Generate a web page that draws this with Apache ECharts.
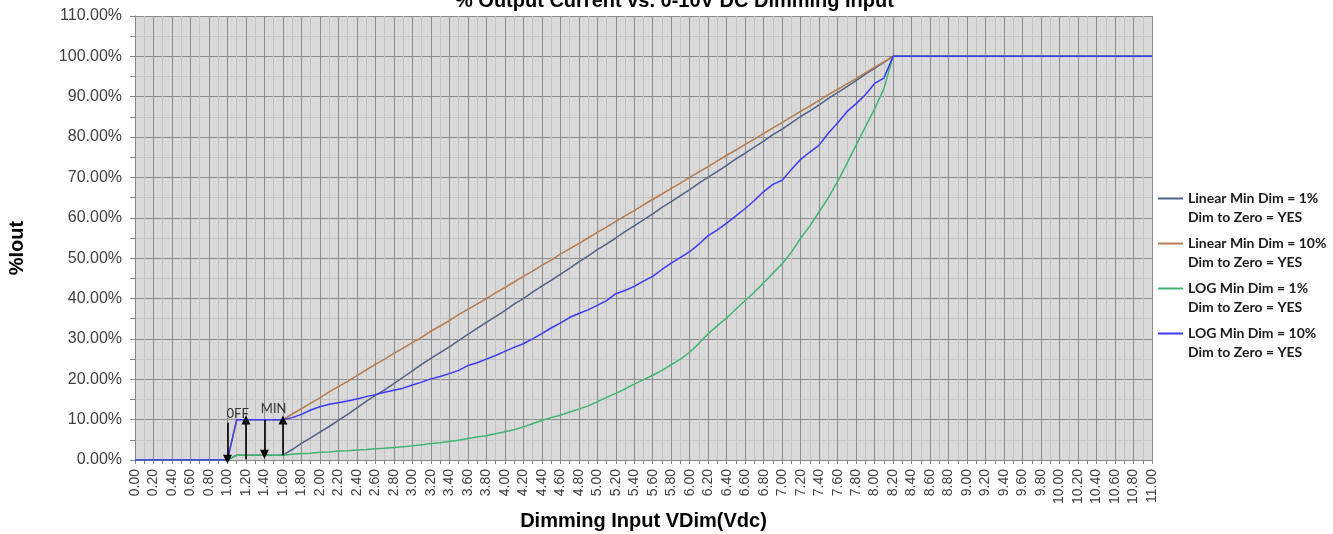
<!DOCTYPE html>
<html><head><meta charset="utf-8">
<script src="https://cdn.jsdelivr.net/npm/echarts@6/dist/echarts.min.js"></script>
<style>html,body{margin:0;padding:0;background:#fff}#c{width:1333px;height:534px}</style>
</head><body><div id="c"></div>
<script>
// Dimming input voltage (Vdc)
const volts = [0, 1.0, 1.1,
  1.6,1.7,1.8,1.9,2.0,2.1,2.2,2.3,2.4,2.5,
  2.6,2.7,2.8,2.9,3.0,3.1,3.2,3.3,3.4,3.5,
  3.6,3.7,3.8,3.9,4.0,4.1,4.2,4.3,4.4,4.5,
  4.6,4.7,4.8,4.9,5.0,5.1,5.2,5.3,5.4,5.5,
  5.6,5.7,5.8,5.9,6.0,6.1,6.2,6.3,6.4,6.5,
  6.6,6.7,6.8,6.9,7.0,7.1,7.2,7.3,7.4,7.5,
  7.6,7.7,7.8,7.9,8.0,8.1,8.2, 11.0];

// % output (percent)
const linear1 = [0, 0, 1.2,
  1.2,2.6,4.1,5.5,6.9,8.3,9.8,11.3,12.9,14.5,
  16.0,17.4,18.9,20.5,22.1,23.7,25.2,26.6,28.0,29.6,
  31.1,32.6,34.1,35.5,37.0,38.6,40.0,41.6,43.1,44.5,
  46.0,47.5,49.1,50.5,52.1,53.5,55.0,56.6,58.0,59.5,
  61.0,62.6,64.0,65.5,67.0,68.6,70.1,71.5,73.0,74.6,
  76.0,77.5,79.0,80.6,82.0,83.5,85.1,86.5,88.0,89.6,
  91.0,92.5,94.0,95.6,97.0,98.5,100, 100];

const linear10 = [0, 0, 10,
  10.0,11.4,12.7,14.1,15.4,16.9,18.2,19.5,20.9,22.3,
  23.7,25.0,26.4,27.7,29.1,30.4,31.9,33.2,34.5,36.0,
  37.3,38.6,40.0,41.4,42.7,44.1,45.5,46.8,48.2,49.5,
  51.0,52.3,53.6,55.0,56.4,57.7,59.1,60.5,61.8,63.2,
  64.6,65.9,67.3,68.6,70.0,71.4,72.7,74.1,75.5,76.8,
  78.2,79.5,80.9,82.3,83.6,85.0,86.4,87.7,89.1,90.5,
  91.8,93.2,94.5,95.9,97.3,98.6,100, 100];

const log1 = [0, 0, 1.2,
  1.2,1.4,1.6,1.7,1.9,2.0,2.2,2.3,2.5,2.6,
  2.8,2.9,3.1,3.3,3.5,3.8,4.1,4.3,4.6,4.9,
  5.3,5.7,6.0,6.5,7.0,7.5,8.2,9.0,9.8,10.5,
  11.1,11.9,12.6,13.4,14.4,15.5,16.5,17.6,18.8,19.9,
  21.0,22.2,23.6,25.0,26.7,28.9,31.3,33.3,35.2,37.4,
  39.5,41.6,43.9,46.3,48.6,51.5,55.0,58.0,61.5,65.0,
  69.0,73.5,78.0,82.5,87.0,92.0,100, 100];

const log10 = [0, 0, 10,
  10.0,10.5,11.3,12.4,13.2,13.8,14.2,14.6,15.1,15.7,
  16.2,16.8,17.3,17.8,18.6,19.3,20.1,20.7,21.4,22.2,
  23.4,24.1,25.0,25.9,26.9,27.9,28.8,30.0,31.3,32.7,
  33.9,35.3,36.3,37.2,38.3,39.5,41.2,42.0,43.0,44.3,
  45.5,47.2,48.8,50.2,51.6,53.5,55.6,57.0,58.7,60.5,
  62.3,64.3,66.5,68.3,69.3,72.0,74.5,76.3,78.0,81.0,
  83.5,86.3,88.3,90.5,93.3,94.6,100, 100];

const seriesNames = ['Linear Min Dim = 1%', 'Linear Min Dim = 10%', 'LOG Min Dim = 1%', 'LOG Min Dim = 10%'];
const legendSecondLine = 'Dim to Zero = YES';
const seriesColors = ['#4f6188', '#b57a4d', '#40b572', '#3a3af2'];

// annotation arrows: [volts, from %, to %]
const arrows = [[1.0, 9.2, 0.2], [1.2, 0.2, 9.9], [1.4, 9.9, 1.4], [1.6, 1.2, 9.9]];
// annotation texts: [label, volts, %]
const notes = [['0FF', 1.11, 11.4], ['MIN', 1.50, 12.7]];

const chart = echarts.init(document.getElementById('c'));
const pts = arr => volts.map((v, i) => [v, arr[i]]);
const dataSets = [linear1, linear10, log1, log10];

const series = dataSets.map((arr, i) => ({
  name: seriesNames[i], type: 'line', symbol: 'none', showSymbol: false,
  lineStyle: {width: 1.5, color: seriesColors[i]}, itemStyle: {color: seriesColors[i]},
  data: pts(arr)
}));
series[3].markLine = {
  silent: true, symbol: ['none', 'triangle'], symbolSize: 9,
  label: {show: false},
  lineStyle: {color: '#000', width: 1.6, type: 'solid'},
  itemStyle: {color: '#000'},
  data: arrows.map(a => [{coord: [a[0], a[1]]}, {coord: [a[0], a[2]]}])
};
series[3].markPoint = {
  silent: true, symbol: 'rect', symbolSize: 1, itemStyle: {color: 'rgba(0,0,0,0)'},
  label: {show: true, position: 'inside', color: '#333', fontFamily: 'Lato', fontSize: 13, formatter: p => p.name},
  data: notes.map(n => ({name: n[0], coord: [n[1], n[2]]}))
};

const axisGrey = '#868686';
chart.setOption({
  animation: false,
  title: {
    text: '% Output Current vs. 0-10V DC Dimming Input', left: 450, top: -14,
    textStyle: {fontFamily: 'Liberation Sans', fontWeight: 'bold', fontSize: 20, color: '#000'}
  },
  grid: {left: 135, right: 181, top: 16, bottom: 74, show: true, backgroundColor: '#d9d9d9', borderWidth: 0,
    outerBoundsMode: 'none', containLabel: false},
  legend: {
    orient: 'vertical', left: 1158, top: 170, padding: 0, itemWidth: 25, itemHeight: 2, itemGap: -12,
    icon: 'rect',
    data: seriesNames,
    formatter: n => ' \n' + n + '\n' + legendSecondLine,
    textStyle: {fontFamily: 'Lato', fontWeight: 'bold', fontSize: 14, color: '#1a1a1a', lineHeight: 19}
  },
  xAxis: {
    type: 'value', min: 0, max: 11, interval: 0.2,
    name: 'Dimming Input VDim(Vdc)', nameLocation: 'middle', nameGap: 51,
    nameTextStyle: {fontFamily: 'Liberation Sans', fontWeight: 'bold', fontSize: 20, color: '#000'},
    axisLine: {show: true, onZero: false, lineStyle: {color: axisGrey}},
    axisTick: {show: true, length: 4, lineStyle: {color: axisGrey}},
    minorTick: {show: true, splitNumber: 2, length: 4, lineStyle: {color: axisGrey}},
    splitLine: {show: true, lineStyle: {color: '#8c8c8c', width: 1}},
    minorSplitLine: {show: true, lineStyle: {color: '#c4c4c4', width: 1}},
    axisLabel: {rotate: 90, margin: 9, fontSize: 14, fontFamily: 'Liberation Sans', color: '#404040',
      formatter: v => v.toFixed(2), showMinLabel: true, showMaxLabel: true}
  },
  yAxis: {
    type: 'value', min: 0, max: 110, interval: 10,
    axisLine: {show: true, lineStyle: {color: axisGrey}},
    axisTick: {show: true, length: 5, lineStyle: {color: axisGrey}},
    minorTick: {show: true, splitNumber: 2, length: 5, lineStyle: {color: axisGrey}},
    splitLine: {show: true, lineStyle: {color: '#8c8c8c', width: 1}},
    minorSplitLine: {show: true, lineStyle: {color: '#c4c4c4', width: 1}},
    axisLabel: {margin: 13, fontSize: 16, fontFamily: 'Liberation Sans', color: '#404040',
      formatter: v => v.toFixed(2) + '%'}
  },
  graphic: [{
    type: 'text', x: 17, y: 248, rotation: Math.PI / 2,
    style: {text: '%Iout', fontFamily: 'Liberation Sans', fontWeight: 'bold', fontSize: 20, fill: '#000', align: 'center', verticalAlign: 'middle'}
  }],
  series: series
});
</script></body></html>
